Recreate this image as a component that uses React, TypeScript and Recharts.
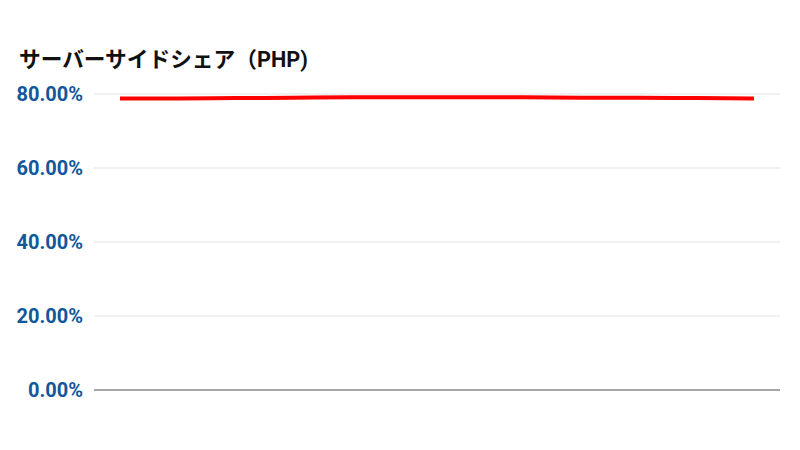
import React from 'react';
import { LineChart, Line, XAxis, YAxis, CartesianGrid } from 'recharts';

// Monthly share (%) of PHP among server-side languages
const months = ['1月', '2月', '3月', '4月', '5月', '6月', '7月', '8月', '9月', '10月', '11月', '12月'];
const phpShare = [78.8, 78.8, 78.9, 79.0, 79.1, 79.1, 79.1, 79.1, 79.0, 79.0, 78.9, 78.8];
const yTicks = [0, 20, 40, 60, 80];

const TITLE = 'サーバーサイドシェア（PHP)';
const TICK_COLOR = '#11579b';

const chartData = months.map((m, i) => ({ month: m, php: phpShare[i] }));

const YTick = ({ x, y, payload }: any) => (
  <text
    x={x}
    y={y}
    dy={7}
    textAnchor="end"
    fill={TICK_COLOR}
    style={{ fontSize: 20, fontWeight: 700, fontFamily: 'Roboto, sans-serif' }}
  >
    {`${Number(payload.value).toFixed(2)}%`}
  </text>
);

const App: React.FC = () => {
  return (
    <div style={{ position: 'absolute', left: 0, top: 0, width: 800, height: 450, background: '#fff' }}>
      <div
        style={{
          position: 'absolute',
          left: 19,
          top: 45,
          fontFamily: 'Roboto, "Noto Sans CJK JP", sans-serif',
          fontWeight: 700,
          fontSize: 21.7,
          color: '#111',
          lineHeight: '30px',
        }}
      >
        {TITLE}
      </div>
      <LineChart width={800} height={450} data={chartData} margin={{ top: 94, right: 20, left: 0, bottom: 59 }}>
        <CartesianGrid vertical={false} stroke="#e2e2e2" />
        <XAxis
          dataKey="month"
          tick={false}
          tickLine={false}
          axisLine={{ stroke: '#8c8c8c', strokeWidth: 1.5 }}
          padding={{ left: 26, right: 26 }}
          height={1}
        />
        <YAxis
          width={94}
          domain={[0, 80]}
          ticks={yTicks}
          axisLine={false}
          tickLine={false}
          tickMargin={5}
          tick={<YTick />}
        />
        <Line
          type="monotone"
          dataKey="php"
          stroke="#ff0000"
          strokeWidth={4}
          dot={false}
          isAnimationActive={false}
        />
      </LineChart>
    </div>
  );
};

export default App;
